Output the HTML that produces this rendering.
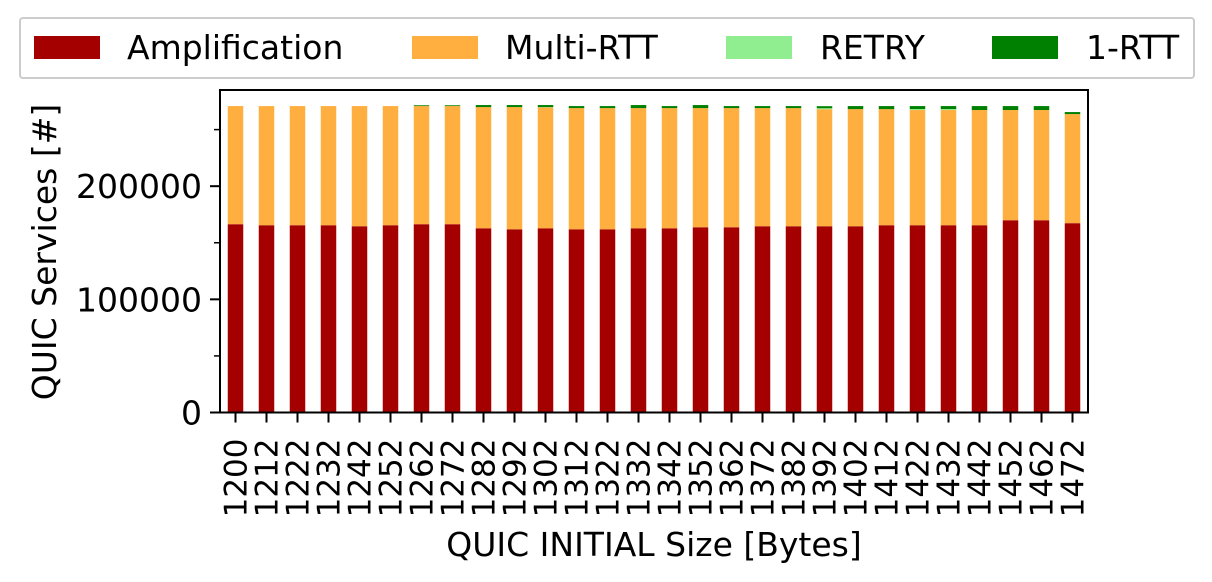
<!DOCTYPE html>
<html><head><meta charset="utf-8"><style>
body{margin:0;background:#fff;}
svg{display:block;font-family:"DejaVu Sans","Liberation Sans",sans-serif;}
</style></head><body>
<svg id="chart" width="1212" height="582" viewBox="0 0 1212 582">
<g>
<rect x="20" y="18" width="1174" height="60" fill="#fff" stroke="#cccccc" stroke-width="2" rx="3"/>
<g><rect x="34" y="36" width="66" height="23" fill="#a50000"/><text x="127" y="59" font-size="33">Amplification</text></g>
<g><rect x="412" y="36" width="66" height="23" fill="#ffaf3f"/><text x="505" y="59" font-size="33">Multi-RTT</text></g>
<g><rect x="726" y="36" width="66" height="23" fill="#90ee90"/><text x="820" y="59" font-size="33">RETRY</text></g>
<g><rect x="992" y="36" width="66" height="23" fill="#008000"/><text x="1086" y="59" font-size="33">1-RTT</text></g>
</g>
<g id="bars"></g>
<g id="axes"></g>
<text transform="translate(56,252) rotate(-90)" text-anchor="middle" font-size="33">QUIC Services [#]</text>
<text x="654" y="556" text-anchor="middle" font-size="33">QUIC INITIAL Size [Bytes]</text>
</svg>
<script>
const categories=[1200,1212,1222,1232,1242,1252,1262,1272,1282,1292,1302,1312,1322,1332,1342,1352,1362,1372,1382,1392,1402,1412,1422,1432,1442,1452,1462,1472];
const amplification=[166400,165500,165500,165500,164600,165500,166400,166400,162800,161900,162800,161900,161900,162800,162800,163700,163700,164600,164600,164600,164600,165500,165500,165500,165500,169900,169900,167300];
const multiRtt=[104400,105300,105300,105300,106200,105300,104400,104400,107100,108000,106800,107100,107100,106200,106200,105300,105300,104400,104400,103400,103500,102600,101800,101800,101800,97400,97400,96400];
const retry=[0,0,0,0,0,0,0,0,0,0,300,0,0,0,0,0,0,0,0,900,0,0,900,900,0,0,0,0];
const oneRtt=[0,0,0,0,0,0,700,700,1800,1800,1800,1800,1800,2700,1800,2700,1800,1800,1800,1800,2700,2700,2600,2600,3500,3500,3500,1800];
const yTicks=[0,100000,200000];
const yMinor=[50000,150000,250000];
const NS="http://www.w3.org/2000/svg";
const X0=220,X1=1088,Y0=412.5,YT=90,YMAX=285000;
const step=(X1-X0)/categories.length;
function xPos(i){return X0+(i+0.5)*step;}
function yPos(v){return Y0-(Y0-YT)*v/YMAX;}
const bars=document.getElementById('bars'),axes=document.getElementById('axes');
function mk(tag,attrs,parent){const e=document.createElementNS(NS,tag);for(const k in attrs)e.setAttribute(k,attrs[k]);parent.appendChild(e);return e;}
const series=[[amplification,'#a50000','amplification'],[multiRtt,'#ffaf3f','multi-rtt'],[retry,'#90ee90','retry'],[oneRtt,'#008000','1-rtt']];
categories.forEach((c,i)=>{
  let base=0;
  series.forEach(([arr,col,nm])=>{
    const v=arr[i];if(v<=0)return;
    const r=mk('rect',{x:xPos(i)-step*0.25,width:step*0.5,y:yPos(base+v),height:yPos(base)-yPos(base+v),fill:col},bars);
    
    
    base+=v;
  });
  const t=mk('line',{x1:xPos(i),x2:xPos(i),y1:Y0,y2:Y0+10,stroke:'#000','stroke-width':2},axes);
  
  
  const lb=mk('text',{transform:`translate(${xPos(i)+11},${Y0+26}) rotate(-90)`,'text-anchor':'end','font-size':31},axes);
  lb.textContent=c;
  
  
});
yTicks.forEach(v=>{
  const t=mk('line',{x1:X0-10,x2:X0,y1:yPos(v),y2:yPos(v),stroke:'#000','stroke-width':2},axes);
  
  
  const lb=mk('text',{x:X0-18,y:yPos(v)+12,'text-anchor':'end','font-size':33},axes);
  lb.textContent=v;
  
  
});
yMinor.forEach(v=>{
  const t=mk('line',{x1:X0-6,x2:X0,y1:yPos(v),y2:yPos(v),stroke:'#000','stroke-width':1.5},axes);
  
  
});
const f=mk('rect',{x:X0,y:YT,width:X1-X0,height:Y0-YT,fill:'none',stroke:'#000','stroke-width':2},axes);


</script>
</body></html>
